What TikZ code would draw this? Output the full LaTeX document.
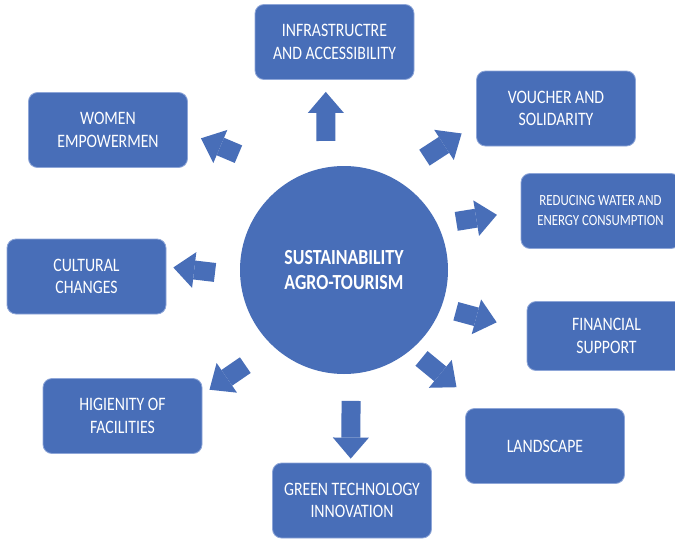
\documentclass[tikz,border=0pt]{standalone}
\usepackage{fontspec}
\setmainfont{Carlito}
\newfontfamily\boxfont[FakeStretch=0.83]{Carlito}
\usepackage{tikz}
\usetikzlibrary{arrows.meta,positioning,calc}
\definecolor{nodeblue}{HTML}{486EB8}
\definecolor{edgeblue}{HTML}{8EA6D8}

\begin{document}
\begin{tikzpicture}[x=1pt,y=-1pt,semithick]

	\tikzstyle{factor}=[rectangle, rounded corners=9pt,
	minimum width=159pt, minimum height=75pt, align=center,
	fill=nodeblue, draw=edgeblue, line width=0.8pt, text=white,
	font=\boxfont\fontsize{19}{22.7}\selectfont]

	\tikzstyle{core}=[circle, minimum size=208pt, inner sep=0pt, outer sep=0pt,
	fill=nodeblue, text=white, align=center,
	font=\boxfont\bfseries\fontsize{21.5}{25.5}\selectfont]

	\tikzstyle{blockarrow}=[draw=nodeblue, line width=19pt,
	-{Triangle[width=36pt,length=21pt,line width=0pt]}]

	\fill[white] (0,0) rectangle (675,541);
	\useasboundingbox (0,0) rectangle (675,541);

	%central node
	\node[core] (hub) at (344,270) {SUSTAINABILITY\\AGRO-TOURISM};

	%factors around it
	\node[factor] (infra) at (334.5,42) {INFRASTRUCTRE\\AND ACCESSIBILITY};
	\node[factor] (women) at (108,130) {WOMEN\\EMPOWERMEN};
	\node[factor] (voucher) at (556,108.5) {VOUCHER AND\\SOLIDARITY};
	\node[factor, font=\boxfont\fontsize{15.5}{20}\selectfont]
	(reducing) at (600.5,211) {REDUCING WATER AND\\ENERGY CONSUMPTION};
	\node[factor] (cultural) at (86.5,276.5) {CULTURAL\\CHANGES};
	\node[factor, minimum height=69pt]
	(financial) at (606.5,336) {FINANCIAL\\SUPPORT};
	\node[factor] (hygiene) at (122.5,416) {HIGIENITY OF\\FACILITIES};
	\node[factor] (landscape) at (545,446) {LANDSCAPE};
	\node[factor] (greentech) at (352,500.5) {GREEN TECHNOLOGY\\INNOVATION};

	%block arrows
	\draw[blockarrow, shorten <=26.6pt, shorten >=12pt] (hub.100) -- (infra.257);
	\draw[blockarrow, shorten <=61.6pt, shorten >=14.2pt] (hub.118) -- (women.358);
	\draw[blockarrow, shorten <=37.7pt, shorten >=17.3pt] (hub.62) -- (voucher.191);
	\draw[blockarrow, shorten <=19pt, shorten >=24pt] (hub.26) -- (reducing.180);
	\draw[blockarrow, shorten <=25.3pt, shorten >=7pt] (hub.183) -- (cultural.7);
	\draw[blockarrow, shorten <=15.3pt, shorten >=31pt] (hub.339) -- (financial.176);
	\draw[blockarrow, shorten <=33.7pt, shorten >=8.6pt] (hub.227) -- (hygiene.15);
	\draw[blockarrow, shorten <=13.8pt, shorten >=32.9pt] (hub.310) -- (landscape.149);
	\draw[blockarrow, shorten <=27.2pt, shorten >=4pt] (hub.274) -- (greentech.92);

\end{tikzpicture}
\end{document}
